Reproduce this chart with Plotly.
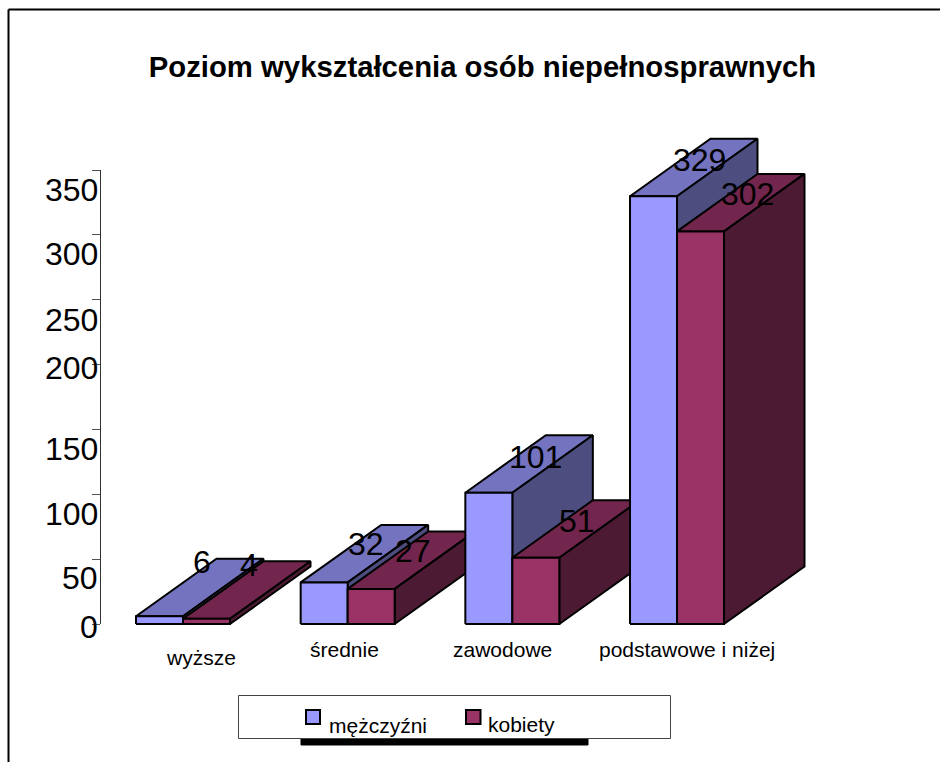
import plotly.graph_objects as go

TITLE = "Poziom wykształcenia osób niepełnosprawnych"
categories = ["wyższe", "średnie", "zawodowe", "podstawowe i niżej"]
men = [6, 32, 101, 329]
women = [4, 27, 51, 302]
series_names = ["mężczyźni", "kobiety"]
y_ticks = [0, 50, 100, 150, 200, 250, 300, 350]

W, H = 940, 762
BASE_PX, TOP_PX = 624, 170      # pixel rows of values 0 and 350 on the printed axis
PX_PER_UNIT = 1.30              # scale of the bars, very slightly steeper than the axis in the source
GROUP_PX, FIRST_PX = 164.67, 183
BAR_W = 47 / GROUP_PX           # bar width in category units
DEPTH_X = 80.5 / GROUP_PX       # oblique depth, category units
DEPTH_Y = 57.5 / PX_PER_UNIT    # oblique depth, value units

FONT = "Liberation Sans"
styles = [
    dict(front="#9999FF", top="#7373BF", side="#4D4D80"),
    dict(front="#993366", top="#73264D", side="#4D1A33"),
]

# per-label text offsets in pixels, as placed in the source picture
tick_label_drop = [3, 19, 20, 20, 3, 20, 19, 20]
cat_label_px = [(201, 657), (344, 649), (503, 649), (687, 649)]
value_label_shift = [(42, 54), (42, 54), (42, 38), (42, 38), (47, 36), (41, 37), (46, 36), (47, 37)]

fig = go.Figure()


def face(xs, ys, color):
    fig.add_trace(go.Scatter(
        x=xs + xs[:1], y=ys + ys[:1], mode="lines", fill="toself", fillcolor=color,
        line=dict(color="black", width=2), hoverinfo="skip", showlegend=False,
    ))


annots = []
for i, cat in enumerate(categories):
    for s, vals in enumerate((men, women)):
        v = vals[i]
        l = i - BAR_W + s * BAR_W
        r = l + BAR_W
        st = styles[s]
        face([l, r, r + DEPTH_X, l + DEPTH_X], [v, v, v + DEPTH_Y, v + DEPTH_Y], st["top"])
        face([r, r + DEPTH_X, r + DEPTH_X, r], [0, DEPTH_Y, v + DEPTH_Y, v], st["side"])
        face([l, r, r, l], [0, 0, v, v], st["front"])

for i, cat in enumerate(categories):
    for s, vals in enumerate((men, women)):
        v = vals[i]
        dx, dy = value_label_shift[2 * i + s]
        annots.append(dict(
            x=i - BAR_W + (s + 0.5) * BAR_W, y=v, xref="x", yref="y", text=str(v), showarrow=False,
            xshift=dx, yshift=dy, font=dict(family=FONT, size=32, color="black"),
        ))
    px, py = cat_label_px[i]
    annots.append(dict(
        x=px / W, y=1 - py / H, xref="paper", yref="paper", text=cat, showarrow=False,
        xanchor="center", yanchor="middle", font=dict(family=FONT, size=21, color="black"),
    ))

for t, drop in zip(y_ticks, tick_label_drop):
    annots.append(dict(
        x=100 / W, y=t, xref="paper", yref="y2", text=str(t), showarrow=False, xanchor="right",
        yanchor="middle", yshift=-drop, font=dict(family=FONT, size=32, color="black"),
    ))

# trace that carries the visible value axis
fig.add_trace(go.Scatter(x=[0], y=[0], xaxis="x2", yaxis="y2", mode="markers",
                         marker=dict(opacity=0), hoverinfo="skip", showlegend=False))


def rect(x0, y0, x1, y1, fill="rgba(0,0,0,0)", line="black", lw=1):
    return dict(type="rect", xref="paper", yref="paper", x0=x0 / W, x1=x1 / W,
                y0=1 - y0 / H, y1=1 - y1 / H, fillcolor=fill, line=dict(color=line, width=lw))


shapes = [
    dict(type="line", xref="paper", yref="paper", x0=8.5 / W, x1=1, y0=1 - 9.5 / H, y1=1 - 9.5 / H,
         line=dict(color="black", width=2)),
    dict(type="line", xref="paper", yref="paper", x0=8.5 / W, x1=8.5 / W, y0=0, y1=1 - 9.5 / H,
         line=dict(color="black", width=2)),
    rect(301, 738, 588, 745, fill="black", line="black"),
    rect(238.5, 695.5, 670.5, 738.5, fill="white", line="#444444"),
    rect(306, 710, 320, 724, fill=styles[0]["front"], lw=2),
    rect(466, 710, 480.5, 724, fill=styles[1]["front"], lw=2),
]

for name, px, py in ((series_names[0], 327, 725), (series_names[1], 486, 724)):
    annots.append(dict(
        x=px / W, y=1 - py / H, xref="paper", yref="paper", text=name, showarrow=False, xanchor="left",
        yanchor="middle", font=dict(family=FONT, size=21, color="black"),
    ))

fig.update_layout(
    width=W, height=H, autosize=False, margin=dict(l=0, r=0, t=0, b=0),
    paper_bgcolor="white", plot_bgcolor="rgba(0,0,0,0)", showlegend=False,
    title=dict(text=f"<b>{TITLE}</b>", x=482.5 / W, xanchor="center", y=1 - 67 / H, yanchor="middle",
               font=dict(family=FONT, size=29.3, color="black")),
    xaxis=dict(visible=False, range=[-FIRST_PX / GROUP_PX, (W - FIRST_PX) / GROUP_PX], domain=[0, 1]),
    yaxis=dict(visible=False, range=[-(H - BASE_PX) / PX_PER_UNIT, BASE_PX / PX_PER_UNIT], domain=[0, 1]),
    xaxis2=dict(visible=False, domain=[100.5 / W, 1], range=[0, 1], anchor="y2"),
    yaxis2=dict(
        domain=[1 - BASE_PX / H, 1 - TOP_PX / H], range=[0, 350], anchor="x2",
        tickvals=y_ticks, showticklabels=False, ticks="outside", ticklen=8, tickwidth=1,
        tickcolor="#555555", showline=True, linecolor="#333333", linewidth=1, showgrid=False,
        zeroline=False,
    ),
    annotations=annots, shapes=shapes,
)

fig.write_html("out.html", config=dict(displayModeBar=False), post_script="document.body.style.margin='0';")
